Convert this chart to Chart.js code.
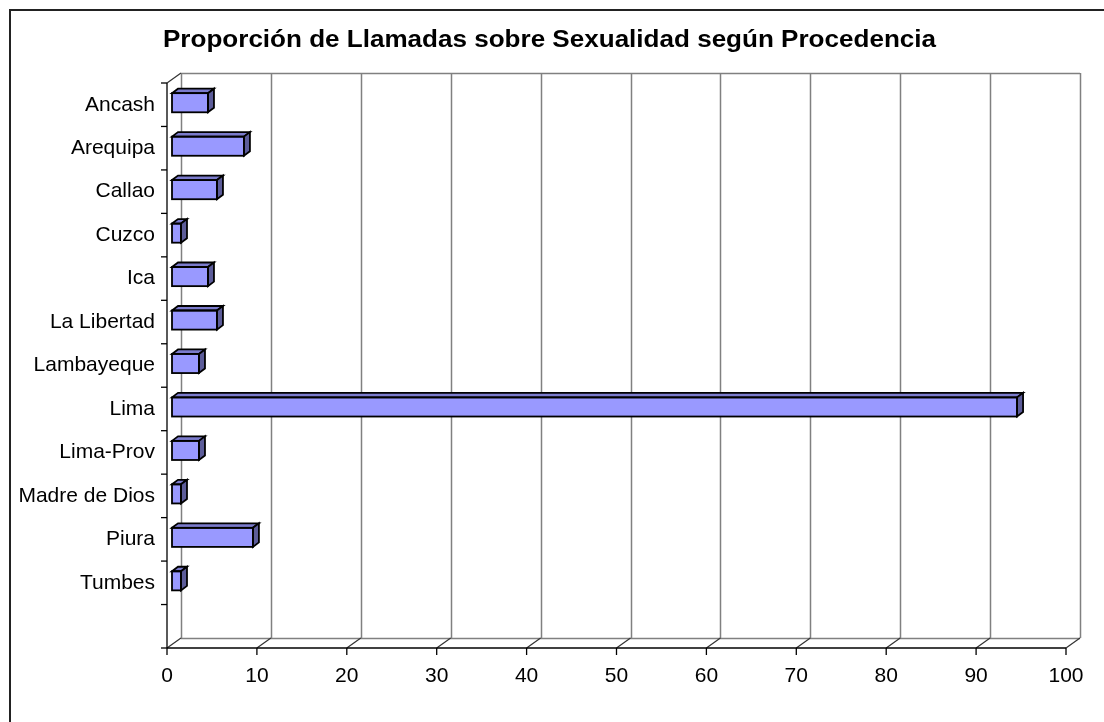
<!DOCTYPE html>
<html>
<head>
<meta charset="utf-8">
<script src="https://cdn.jsdelivr.net/npm/chart.js@4.4.1/dist/chart.umd.min.js"></script>
<style>
html,body{margin:0;padding:0;background:#fff;}
canvas{display:block;}
</style>
</head>
<body>
<canvas id="c" width="1104" height="722"></canvas>
<script>
const chartTitle = 'Proporción de Llamadas sobre Sexualidad según Procedencia';
const categories = ['Ancash','Arequipa','Callao','Cuzco','Ica','La Libertad','Lambayeque','Lima','Lima-Prov','Madre de Dios','Piura','Tumbes',''];
const values = [4, 8, 5, 1, 4, 5, 3, 94, 3, 1, 9, 1, null];
const xTicks = [0,10,20,30,40,50,60,70,80,90,100];

const FONT = '"Liberation Sans", Arial, sans-serif';
const WALL = {dx: 14, dy: -10};
const BAR = {dx: 6, dy: -4.5, shiftX: 5, shiftY: -2};

const threeD = {
  id: 'threeD',
  beforeDraw(chart) {
    const ctx = chart.ctx;
    ctx.save();
    ctx.fillStyle = '#fff';
    ctx.fillRect(0, 0, chart.width, chart.height);
    ctx.strokeStyle = '#222';
    ctx.lineWidth = 2;
    ctx.beginPath();
    ctx.moveTo(10, chart.height);
    ctx.lineTo(10, 10);
    ctx.lineTo(chart.width, 10);
    ctx.stroke();
    ctx.font = 'bold 23px ' + FONT;
    ctx.fillStyle = '#000';
    ctx.textBaseline = 'alphabetic';
    ctx.textAlign = 'left';
    const w = ctx.measureText(chartTitle).width;
    const target = 773;
    ctx.translate(163, 47);
    ctx.scale(target / w, 1);
    ctx.fillText(chartTitle, 0, 0);
    ctx.restore();
  },
  beforeDatasetsDraw(chart) {
    const ctx = chart.ctx;
    const xs = chart.scales.x;
    const a = chart.chartArea;
    const L = a.left, R = a.right, T = a.top, B = a.bottom;
    ctx.save();
    ctx.strokeStyle = '#808080';
    ctx.lineWidth = 1.5;
    xTicks.forEach(v => {
      const px = Math.round(xs.getPixelForValue(v)) + WALL.dx + 0.5;
      ctx.beginPath();
      ctx.moveTo(px, T + WALL.dy);
      ctx.lineTo(px, B + WALL.dy);
      ctx.stroke();
    });
    ctx.beginPath();
    ctx.moveTo(L + WALL.dx, T + WALL.dy + 0.5);
    ctx.lineTo(R + WALL.dx, T + WALL.dy + 0.5);
    ctx.moveTo(L + WALL.dx, B + WALL.dy + 0.5);
    ctx.lineTo(R + WALL.dx, B + WALL.dy + 0.5);
    ctx.stroke();
    ctx.strokeStyle = '#333';
    ctx.lineWidth = 1.2;
    xTicks.forEach(v => {
      const px = xs.getPixelForValue(v);
      ctx.beginPath();
      ctx.moveTo(px, B);
      ctx.lineTo(px + WALL.dx, B + WALL.dy);
      ctx.stroke();
    });
    ctx.beginPath();
    ctx.moveTo(L, T);
    ctx.lineTo(L + WALL.dx, T + WALL.dy);
    ctx.stroke();
    ctx.restore();

    ctx.save();
    ctx.translate(BAR.shiftX, BAR.shiftY);
  },
  afterDatasetsDraw(chart) {
    const ctx = chart.ctx;
    const meta = chart.getDatasetMeta(0);
    ctx.lineWidth = 1.8;
    ctx.strokeStyle = '#000';
    ctx.lineJoin = 'miter';
    meta.data.forEach((el, i) => {
      if (values[i] == null) return;
      const p = el.getProps(['x','y','base','height'], true);
      const left = p.base, right = p.x;
      const top = p.y - p.height / 2, bottom = p.y + p.height / 2;
      ctx.fillStyle = '#7b7bcc';
      ctx.beginPath();
      ctx.moveTo(left, top);
      ctx.lineTo(left + BAR.dx, top + BAR.dy);
      ctx.lineTo(right + BAR.dx, top + BAR.dy);
      ctx.lineTo(right, top);
      ctx.closePath();
      ctx.fill();
      ctx.stroke();
      ctx.fillStyle = '#5c5c99';
      ctx.beginPath();
      ctx.moveTo(right, top);
      ctx.lineTo(right + BAR.dx, top + BAR.dy);
      ctx.lineTo(right + BAR.dx, bottom + BAR.dy);
      ctx.lineTo(right, bottom);
      ctx.closePath();
      ctx.fill();
      ctx.stroke();
      ctx.strokeRect(left, top, right - left, bottom - top);
    });
    ctx.restore();
  },
  afterDraw(chart) {
    const ctx = chart.ctx;
    const xs = chart.scales.x;
    const a = chart.chartArea;
    const L = a.left, R = a.right, T = a.top, B = a.bottom;
    ctx.save();
    ctx.strokeStyle = '#000';
    ctx.lineWidth = 1.3;
    ctx.beginPath();
    ctx.moveTo(L, T);
    ctx.lineTo(L, B);
    ctx.stroke();
    const n = categories.length;
    for (let i = 0; i <= n; i++) {
      const y = T + (B - T) * i / n;
      ctx.beginPath();
      ctx.moveTo(L - 6, y);
      ctx.lineTo(L, y);
      ctx.stroke();
    }
    ctx.beginPath();
    ctx.moveTo(L, B);
    ctx.lineTo(R, B);
    ctx.stroke();
    xTicks.forEach(v => {
      const px = xs.getPixelForValue(v);
      ctx.beginPath();
      ctx.moveTo(px, B);
      ctx.lineTo(px, B + 7);
      ctx.stroke();
    });
    ctx.restore();
  }
};

new Chart(document.getElementById('c'), {
  type: 'bar',
  data: {
    labels: categories,
    datasets: [{
      data: values,
      backgroundColor: '#9999ff',
      borderColor: '#000',
      borderWidth: 0,
      categoryPercentage: 1,
      barPercentage: 0.44
    }]
  },
  options: {
    indexAxis: 'y',
    responsive: false,
    devicePixelRatio: 1,
    animation: false,
    layout: { padding: { top: 83, right: 38, bottom: 0, left: 0 } },
    plugins: {
      legend: { display: false },
      title: { display: false },
      tooltip: { enabled: false }
    },
    scales: {
      x: {
        type: 'linear',
        min: 0, max: 100,
        afterBuildTicks(scale) { scale.ticks = xTicks.map(v => ({ value: v })); },
        afterFit(scale) { scale.height = 74; },
        grid: { display: false },
        border: { display: false },
        ticks: {
          autoSkip: false, maxRotation: 0, padding: 8,
          color: '#000', font: { family: FONT, size: 21 }
        }
      },
      y: {
        type: 'category',
        offset: true,
        afterFit(scale) { scale.width = 167; },
        grid: { display: false },
        border: { display: false },
        ticks: {
          autoSkip: false, padding: 4,
          color: '#000', font: { family: FONT, size: 21 }
        }
      }
    }
  },
  plugins: [threeD]
});
</script>
</body>
</html>
